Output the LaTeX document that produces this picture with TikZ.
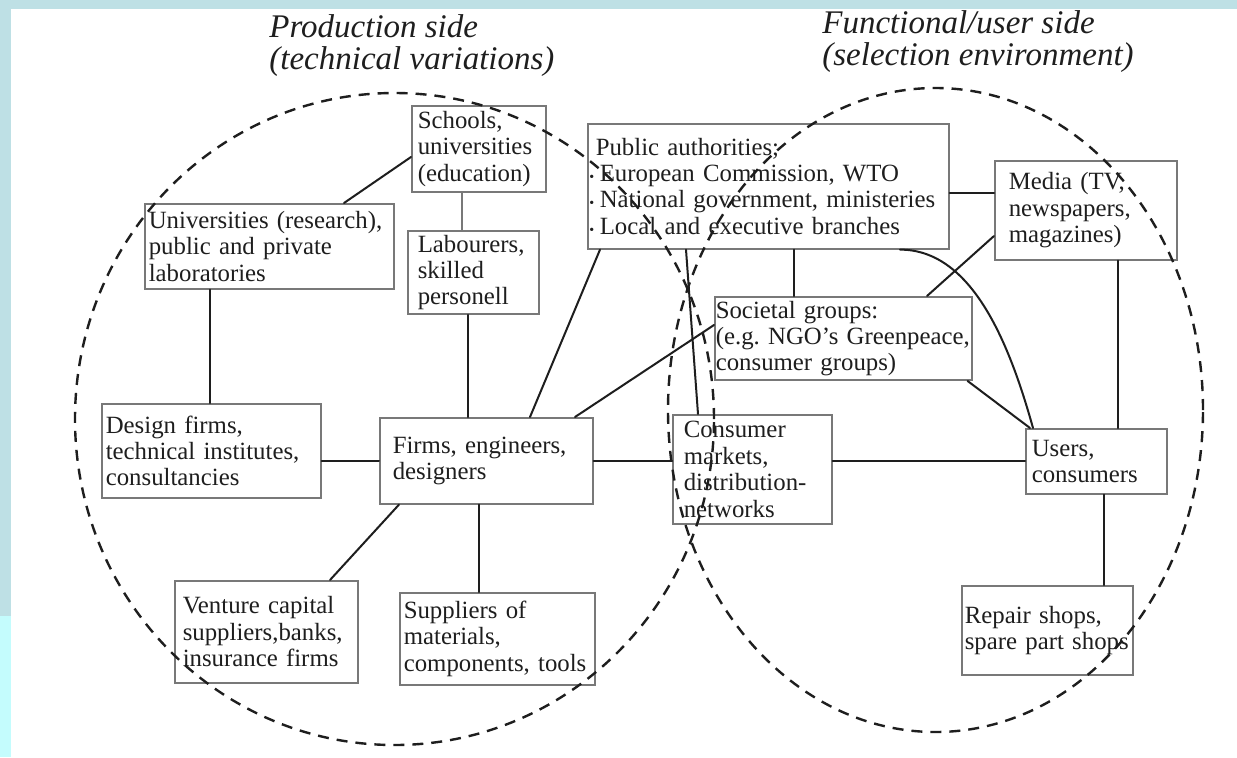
\documentclass[tikz,border=0pt]{standalone}
\usepackage{fontspec}
\setmainfont{Liberation Serif}
\usetikzlibrary{calc}
\definecolor{slideblue}{RGB}{190,224,229}
\definecolor{slidecyan}{RGB}{196,252,253}
\definecolor{boxgray}{RGB}{120,120,120}
\definecolor{inkgray}{RGB}{30,30,30}
\newcommand{\pabullet}{\leavevmode\llap{\fontsize{7}{7}\selectfont\textbullet\hspace{0.8pt}}\hspace{2pt}}
\frenchspacing

\begin{document}
\begin{tikzpicture}[x=0.5pt, y=-0.5pt]
  \tikzstyle{mybox}=[draw=boxgray, line width=0.8pt, text=inkgray, align=left,
    anchor=north west, inner ysep=2pt, font=\fontsize{12.4}{13.2}\selectfont];
  \tikzstyle{mytitle}=[text=inkgray, align=left, anchor=north west, inner sep=0pt,
    font=\fontsize{16.5}{15.9}\selectfont\itshape];
  \tikzstyle{myline}=[draw=inkgray, line width=1pt, line cap=round];
  \tikzstyle{myside}=[draw=inkgray, line width=1.2pt, dash pattern=on 5.5pt off 4pt];
  %
  % slide frame
  \useasboundingbox (0,0) rectangle (1237,757);
  \fill[white] (0,0) rectangle (1237,757);
  \fill[slideblue] (0,0) rectangle (1237,9);
  \fill[slideblue] (0,0) rectangle (11,616);
  \fill[slidecyan] (0,616) rectangle (11,757);
  %
  % titles
  \node[mytitle] (prodtitle) at (269,14) {Production side\\(technical variations)};
  \node[mytitle] (functitle) at (822,10) {Functional/user side\\(selection environment)};
  %
  % production side
  \node[mybox, inner xsep=3pt, text width=61pt, minimum height=43pt] (sch) at (411,105) {
    Schools,\\universities\\(education)};
  %
  \node[mybox, inner xsep=2pt, text width=120.5pt, minimum height=42.5pt] (unires) at (144,203) {
    Universities (research),\\public and private\\laboratories};
  %
  \node[mybox, inner xsep=5pt, text width=55.5pt, minimum height=40pt] (lab) at (407,230) {
    Labourers,\\skilled\\personell};
  %
  \node[mybox, inner xsep=2pt, text width=105.5pt, minimum height=47pt] (des) at (101,403) {
    Design firms,\\technical institutes,\\consultancies};
  %
  \node[mybox, inner xsep=6.5pt, text width=93.5pt, minimum height=43pt] (firms) at (379,417) {
    Firms, engineers,\\designers};
  %
  \node[mybox, inner xsep=4pt, text width=83.5pt, minimum height=51pt] (venture) at (174,580) {
    Venture capital\\suppliers,banks,\\insurance firms};
  %
  \node[mybox, inner xsep=2pt, text width=93.5pt, minimum height=46pt] (sup) at (399,592) {
    Suppliers of\\materials,\\components, tools};
  %
  % selection environment
  \node[mybox, inner xsep=4pt, text width=172.5pt, minimum height=62.5pt] (pub) at (587,123) {
    Public authorities;\\
    \pabullet European Commission, WTO\\
    \pabullet National government, ministeries\\
    \pabullet Local and executive branches};
  %
  \node[mybox, inner xsep=7pt, text width=77pt, minimum height=49.5pt] (media) at (994,160) {
    Media (TV,\\newspapers,\\magazines)};
  %
  \node[mybox, inner xsep=0.5pt, text width=127.5pt, minimum height=40.5pt] (soc) at (714,296) {
    Societal groups:\\(e.g. NGO's Greenpeace,\\consumer groups)};
  %
  \node[mybox, inner xsep=5.5pt, text width=68.5pt, minimum height=54.5pt] (cm) at (672,414) {
    Consumer\\markets,\\distribution-\\networks};
  %
  \node[mybox, inner xsep=3pt, text width=64.5pt, minimum height=32.5pt] (users) at (1025,428) {
    Users,\\consumers};
  %
  \node[mybox, inner xsep=1.5pt, text width=82.5pt, minimum height=44.5pt] (repair) at (961,585) {
    Repair shops,\\spare part shops};
  %
  % connections
  \draw[myline] ($(unires.north west)+(200,0)$) -- ($(sch.north west)+(0,52)$);
  \draw[draw=boxgray, line width=0.6pt] ($(sch.south west)+(51,0)$) -- ($(lab.north west)+(55,0)$);
  \draw[myline] ($(unires.south west)+(66,0)$) -- ($(des.north west)+(109,0)$);
  \draw[myline] ($(lab.south west)+(61,0)$) -- ($(firms.north west)+(89,0)$);
  \draw[myline] ($(pub.south west)+(13,0)$) -- ($(firms.north west)+(151,0)$);
  \draw[myline] ($(firms.north west)+(196,0)$) -- ($(soc.north west)+(0,29)$);
  \draw[myline] ($(des.north east)+(0,58)$) -- ($(firms.north west)+(0,44)$);
  \draw[myline] ($(firms.north east)+(0,44)$) -- ($(cm.north west)+(0,47)$);
  \draw[myline] ($(cm.north east)+(0,47)$) -- ($(users.north west)+(0,33)$);
  \draw[myline] ($(pub.south west)+(99,0)$) -- ($(cm.north west)+(26,0)$);
  \draw[myline] ($(pub.south west)+(207,0)$) -- ($(soc.north west)+(80,0)$);
  \draw[myline] ($(pub.north east)+(0,70)$) -- ($(media.north west)+(0,33)$);
  \draw[myline] ($(soc.north west)+(213,0)$) -- ($(media.north west)+(0,76)$);
  \draw[myline] ($(pub.south west)+(313,0)$) .. controls +(70,0) and +(-25,-90) ..
    ($(users.north west)+(8,0)$);
  \draw[myline] ($(soc.south east)+(-5,0)$) -- ($(users.north west)+(5,0)$);
  \draw[myline] ($(media.south west)+(124,0)$) -- ($(users.north west)+(93,0)$);
  \draw[myline] ($(users.south west)+(79,0)$) -- ($(repair.north west)+(143,0)$);
  \draw[myline] ($(firms.south west)+(20,0)$) -- ($(venture.north west)+(156,0)$);
  \draw[myline] ($(firms.south west)+(100,0)$) -- ($(sup.north west)+(80,0)$);
  %
  % the two sides
  \draw[myside] (394.5,419) ellipse [x radius=159.75pt, y radius=163pt];
  \draw[myside] (935.5,410) ellipse [x radius=133.75pt, y radius=161pt];
\end{tikzpicture}
\end{document}
